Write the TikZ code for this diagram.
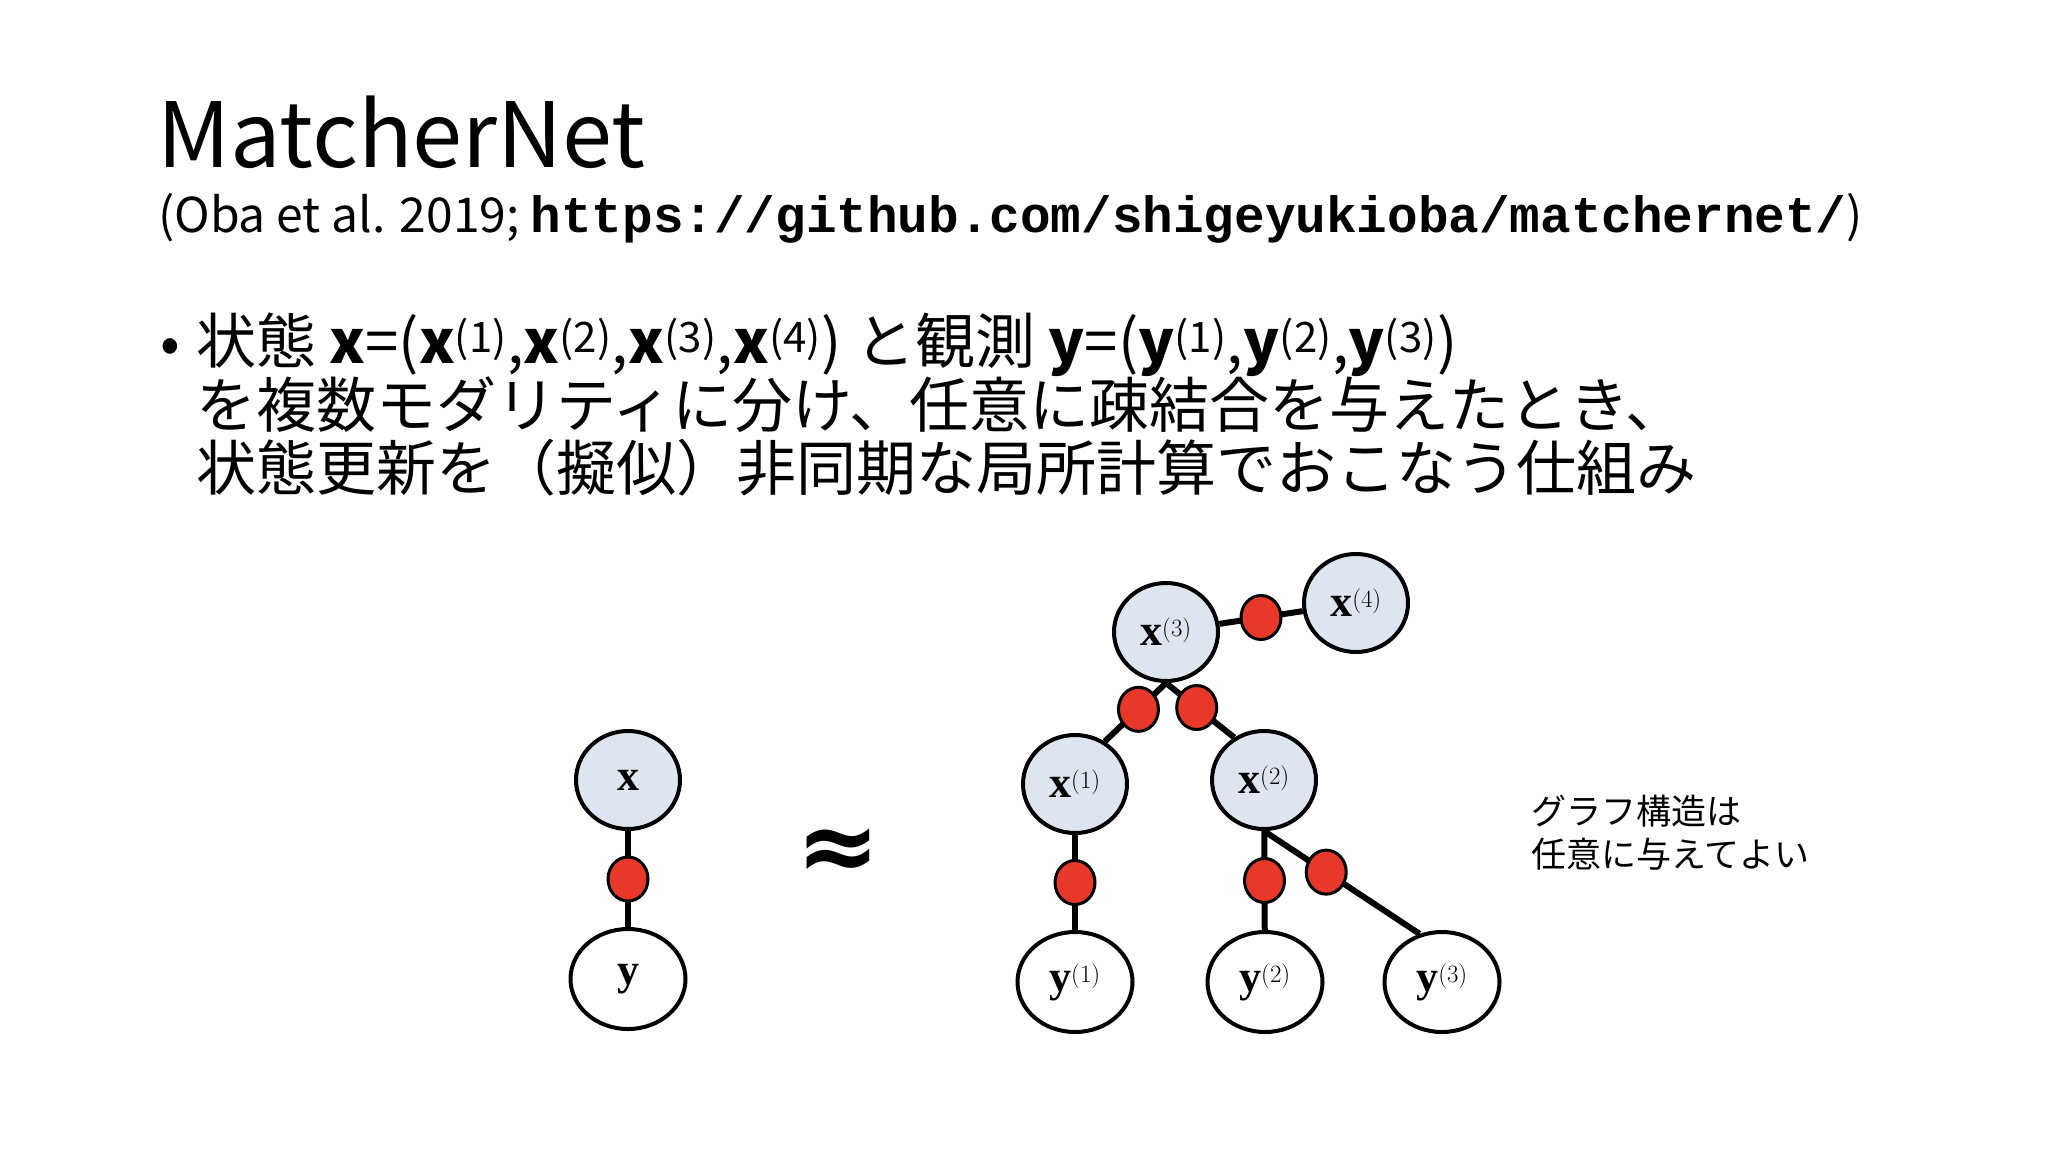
\documentclass[tikz,border=0pt]{standalone}
\usepackage{fontspec}
\usetikzlibrary{shapes.geometric}
\setmainfont{Noto Sans CJK JP}
\newfontfamily\monob{Liberation Mono}
\newfontfamily\serifb{Liberation Serif}
\newfontfamily\djv{DejaVu Sans}
\begin{document}
\begin{tikzpicture}[x=1pt,y=-1pt,
  txt/.style={anchor=base west,inner sep=0pt},
  st/.style={ellipse,draw=black,line width=4pt,fill=statefill,minimum width=104pt,minimum height=98pt,inner sep=0pt,font=\serifb\fontsize{44}{44}\selectfont},
  ob/.style={ellipse,draw=black,line width=4pt,fill=white,minimum width=115pt,minimum height=100pt,inner sep=0pt,font=\serifb\fontsize{44}{44}\selectfont},
  fac/.style={ellipse,draw=black,line width=3pt,fill=facred,minimum width=40pt,minimum height=44pt,inner sep=0pt},
  edge/.style={line width=6pt}]
\definecolor{statefill}{HTML}{DDE6F0}
\definecolor{facred}{HTML}{E8382A}
\useasboundingbox (0,0) rectangle (2048,1152);
\fill[white] (0,0) rectangle (2048,1152);
\node[txt,font=\fontsize{90}{90}\selectfont] (title) at (157,167) {MatcherNet};
\node[txt,font=\fontsize{48}{48}\selectfont] (sub) at (158,232) {(Oba et al. 2019; {\monob\bfseries\fontsize{51}{51}\selectfont https://github.com/shigeyukioba/matchernet/})};
\node[txt,font=\fontsize{58}{58}\selectfont] (bul) at (160,363) {•};
\node[txt,font=\fontsize{60}{60}\selectfont] (l1) at (196,363) {状態 \textbf{x}=(\textbf{x}\textsuperscript{(1)},\textbf{x}\textsuperscript{(2)},\textbf{x}\textsuperscript{(3)},\textbf{x}\textsuperscript{(4)}) と観測 \textbf{y}=(\textbf{y}\textsuperscript{(1)},\textbf{y}\textsuperscript{(2)},\textbf{y}\textsuperscript{(3)})};
\node[txt,font=\fontsize{60}{60}\selectfont] (l2) at (196,427) {を複数モダリティに分け、任意に疎結合を与えたとき、};
\node[txt,font=\fontsize{60}{60}\selectfont] (l3) at (196,490) {状態更新を（擬似）非同期な局所計算でおこなう仕組み};
\node[txt,font=\fontsize{35}{35}\selectfont] (s1) at (1531,824) {グラフ構造は};
\node[txt,font=\fontsize{35}{35}\selectfont] (s2) at (1531,867) {任意に与えてよい};
\node[st] (x) at (628,780) {\textbf{x}};
\node[ob] (y) at (628,979) {\textbf{y}};
\node[font=\djv\bfseries\fontsize{100}{100}\selectfont] (approx) at (838,855) {≈};
\node[st] (x3) at (1166,632) {\textbf{x}$^{(3)}$};
\node[st] (x4) at (1356,603) {\textbf{x}$^{(4)}$};
\node[st] (x1) at (1075,784) {\textbf{x}$^{(1)}$};
\node[st] (x2) at (1264,780) {\textbf{x}$^{(2)}$};
\node[ob] (y1) at (1075,982) {\textbf{y}$^{(1)}$};
\node[ob] (y2) at (1265,982) {\textbf{y}$^{(2)}$};
\node[ob] (y3) at (1442,982) {\textbf{y}$^{(3)}$};
\draw[edge] (x) -- node[fac] (f) {} (y);
\draw[edge] (x3) -- node[fac] (f34) {} (x4);
\draw[edge] (x3.south) -- node[fac,pos=0.45] (f31) {} (x1.55);
\draw[edge] (x3.south) -- node[fac,pos=0.45] (f32) {} (x2.125);
\draw[edge] (x1) -- node[fac] (f1) {} (y1);
\draw[edge] (x2) -- node[fac] (f2) {} (y2);
\draw[edge] (x2.south) -- node[fac,pos=0.4] (f23) {} (y3.115);
\end{tikzpicture}
\end{document}
